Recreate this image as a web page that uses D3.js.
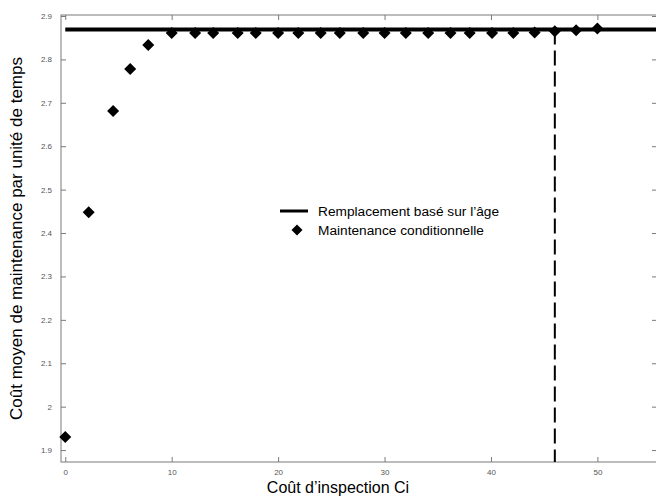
<!DOCTYPE html>
<html>
<head>
<meta charset="utf-8">
<script src="https://cdn.jsdelivr.net/npm/d3@7"></script>
<style>
  html, body { margin: 0; padding: 0; background: #fff; }
  svg { display: block; }
</style>
</head>
<body>
<svg id="chart" width="656" height="496"></svg>
<script>
// Inspection cost Ci and the mean maintenance cost per unit time (condition-based)
const inspectionCost = [0, 2.2, 4.5, 6.1, 7.8, 10, 12.2, 13.9, 16.2, 17.9, 20, 21.9, 24, 25.8, 28, 30, 32, 34.1, 36.2, 38, 40.1, 42.1, 44.1, 46, 48, 50];
const conditionalCost = [1.930, 2.448, 2.681, 2.778, 2.833, 2.861, 2.861, 2.861, 2.861, 2.861, 2.861, 2.861, 2.861, 2.861, 2.861, 2.861, 2.861, 2.861, 2.861, 2.861, 2.861, 2.861, 2.862, 2.865, 2.867, 2.871];
// Age-based replacement cost (constant) and the break-even inspection cost
const ageReplacementCost = 2.869;
const breakEvenCost = 46;

const xTicks = [0, 10, 20, 30, 40, 50];
const yTicks = [1.9, 2.0, 2.1, 2.2, 2.3, 2.4, 2.5, 2.6, 2.7, 2.8, 2.9];

const legendLabels = ["Remplacement basé sur l’âge", "Maintenance conditionnelle"];
const xTitle = "Coût d’inspection Ci";
const yTitle = "Coût moyen de maintenance par unité de temps";

const svg = d3.select("#chart");
const plotLeft = 61, plotRight = 657, plotTop = 15, plotBottom = 462;

const x = d3.scaleLinear().domain([-0.4, 55.6]).range([plotLeft, plotRight]);
const y = d3.scaleLinear().domain([1.8725, 2.9023]).range([plotBottom, plotTop]);

const axisColor = "#7a7a7a";
const fontFamily = "Liberation Sans, Arial, sans-serif";

// frame
svg.append("rect")
  .attr("x", plotLeft).attr("y", plotTop)
  .attr("width", plotRight - plotLeft).attr("height", plotBottom - plotTop)
  .attr("fill", "none").attr("stroke", axisColor).attr("stroke-width", 1);

function styleAxis(g) {
  g.select(".domain").remove();
  g.selectAll(".tick line").attr("stroke", axisColor);
  g.selectAll(".tick text")
    .attr("fill", "#555")
    .style("font-family", fontFamily)
    .style("font-size", "8px");
}

const fmtY = v => (Math.abs(v - 2) < 1e-9 ? "2" : d3.format(".1f")(v));

// bottom and top x ticks (inward)
svg.append("g").attr("transform", `translate(0,${plotBottom})`)
  .call(d3.axisBottom(x).tickValues(xTicks).tickSizeInner(-5).tickPadding(7).tickFormat(d3.format("d")))
  .call(styleAxis);
svg.append("g").attr("transform", `translate(0,${plotTop})`)
  .call(d3.axisTop(x).tickValues(xTicks).tickSizeInner(-5).tickFormat(""))
  .call(styleAxis);

// left and right y ticks (inward)
svg.append("g").attr("transform", `translate(${plotLeft},0)`)
  .call(d3.axisLeft(y).tickValues(yTicks).tickSizeInner(-5).tickPadding(9).tickFormat(fmtY))
  .call(styleAxis);
svg.append("g").attr("transform", `translate(${plotRight},0)`)
  .call(d3.axisRight(y).tickValues(yTicks).tickSizeInner(-5).tickFormat(""))
  .call(styleAxis);

// age-based replacement: horizontal line
svg.append("line")
  .attr("x1", x(0)).attr("x2", plotRight)
  .attr("y1", y(ageReplacementCost)).attr("y2", y(ageReplacementCost))
  .attr("stroke", "#000").attr("stroke-width", 4);

// break-even marker
svg.append("line")
  .attr("x1", x(breakEvenCost)).attr("x2", x(breakEvenCost))
  .attr("y1", y(ageReplacementCost)).attr("y2", plotBottom)
  .attr("stroke", "#000").attr("stroke-width", 2)
  .attr("stroke-dasharray", "15,6");

// condition-based maintenance points
const diamond = "M0,-6L6,0L0,6L-6,0Z";
svg.append("g").selectAll("path")
  .data(inspectionCost.map((c, i) => [c, conditionalCost[i]]))
  .join("path")
  .attr("d", diamond)
  .attr("transform", d => `translate(${x(d[0])},${y(d[1])})`)
  .attr("fill", "#000");

// legend
const lg = svg.append("g").attr("transform", "translate(280,211)");
lg.append("line").attr("x1", 0).attr("x2", 28).attr("y1", 0).attr("y2", 0)
  .attr("stroke", "#000").attr("stroke-width", 3);
lg.append("path").attr("d", "M0,-5.5L5.5,0L0,5.5L-5.5,0Z")
  .attr("transform", "translate(17,19)").attr("fill", "#000");
lg.selectAll("text").data(legendLabels).join("text")
  .attr("x", 38).attr("y", (d, i) => i * 19 + 5)
  .style("font-family", fontFamily).style("font-size", "13.7px")
  .attr("fill", "#000")
  .text(d => d);

// axis titles
svg.append("text")
  .attr("x", 338).attr("y", 493)
  .attr("text-anchor", "middle")
  .style("font-family", fontFamily).style("font-size", "16px")
  .text(xTitle);

svg.append("text")
  .attr("transform", `translate(22,${(plotTop + plotBottom) / 2}) rotate(-90)`)
  .attr("text-anchor", "middle")
  .style("font-family", fontFamily).style("font-size", "17px")
  .text(yTitle);
</script>
</body>
</html>
